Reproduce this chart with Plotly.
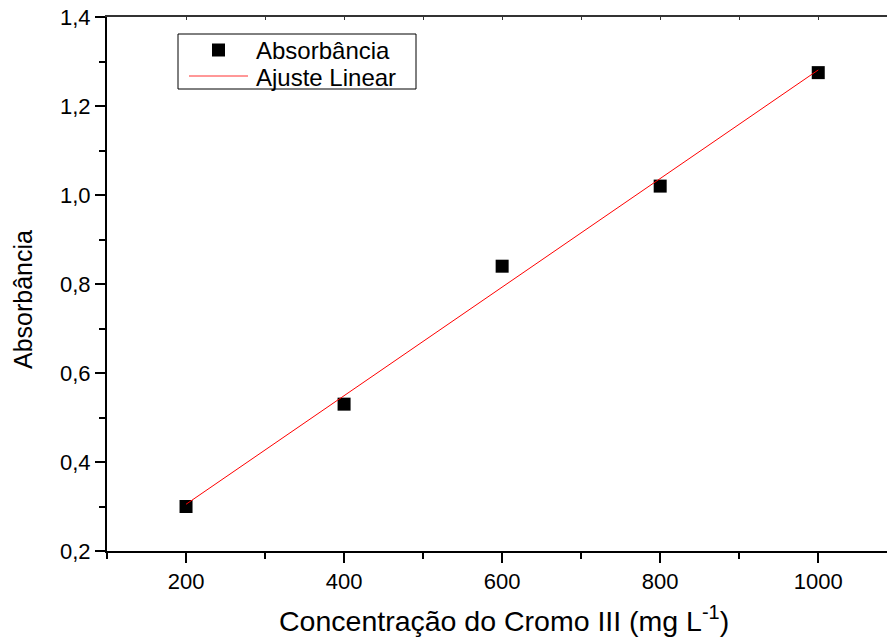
import numpy as np
import plotly.graph_objects as go

# Calibration data: chromium(III) concentration vs absorbance
concentracao = [200, 400, 600, 800, 1000]
absorbancia = [0.300, 0.530, 0.840, 1.020, 1.275]
legenda = ["Absorbância", "Ajuste Linear"]

# Least-squares linear fit
coef = np.polyfit(concentracao, absorbancia, 1)
x_fit = np.array([concentracao[0], concentracao[-1]])
y_fit = np.polyval(coef, x_fit)

FONT = "Liberation Sans, Arial, sans-serif"

# Plot-area geometry in pixels (used to place paper-referenced items)
W, H = 887, 639
L, R, T, B = 107, 0, 17, 88
PW, PH = W - L - R, H - T - B


def px(x):
    return (x - L) / PW


def py(y):
    return (H - B - y) / PH


fig = go.Figure()
fig.add_trace(go.Scatter(
    x=concentracao, y=absorbancia, mode="markers", name=legenda[0],
    marker=dict(symbol="square", size=13, color="black"),
    showlegend=False,
))
fig.add_trace(go.Scatter(
    x=x_fit, y=y_fit, mode="lines", name=legenda[1],
    line=dict(color="red", width=1), showlegend=False,
))
# invisible trace carrying the top axis
fig.add_trace(go.Scatter(x=[100], y=[0.2], xaxis="x2", mode="markers",
                         marker=dict(opacity=0), showlegend=False,
                         hoverinfo="skip"))

axis_common = dict(
    showgrid=False, zeroline=False, showline=True, linecolor="black",
    linewidth=2, ticks="outside", ticklen=10, tickwidth=2,
    tickcolor="black", tickfont=dict(family=FONT, size=22, color="black"),
)

fig.update_layout(
    xaxis=dict(
        range=[100, 1087], tickvals=[200, 400, 600, 800, 1000],
        minor=dict(dtick=100, tick0=100, ticks="outside", ticklen=6,
                   tickwidth=2, tickcolor="black"),
        **axis_common,
    ),
    xaxis2=dict(
        range=[100, 1087], overlaying="x", side="top", anchor="y",
        showgrid=False, zeroline=False, showline=True, linecolor="#333333",
        linewidth=2, ticks="inside", ticklen=3, tickwidth=1,
        tickcolor="#333333", dtick=100, tick0=100, showticklabels=False,
    ),
    yaxis=dict(
        range=[0.2, 1.4], dtick=0.2, tick0=0.2, tickformat=".1f",
        minor=dict(dtick=0.1, tick0=0.2, ticks="outside", ticklen=6,
                   tickwidth=2, tickcolor="black"),
        **axis_common,
    ),
)

shapes = [
    # legend frame
    dict(type="rect", xref="paper", yref="paper",
         x0=px(178), x1=px(416), y0=py(89), y1=py(34),
         line=dict(color="black", width=1), fillcolor="white", layer="above"),
    # legend symbols
    dict(type="rect", xref="paper", yref="paper",
         x0=px(212), x1=px(225), y0=py(56.5), y1=py(43.5),
         line=dict(width=0), fillcolor="black", layer="above"),
    dict(type="line", xref="paper", yref="paper",
         x0=px(189), x1=px(248), y0=py(76), y1=py(76),
         line=dict(color="#ff3030", width=1), layer="above"),
]

annotations = [
    dict(text=legenda[0], xref="paper", yref="paper", x=px(254), y=py(50),
         xanchor="left", yanchor="middle", showarrow=False,
         font=dict(family=FONT, size=24, color="black")),
    dict(text=legenda[1], xref="paper", yref="paper", x=px(254), y=py(77),
         xanchor="left", yanchor="middle", showarrow=False,
         font=dict(family=FONT, size=24, color="black")),
    dict(text="Concentração do Cromo III (mg L<sup>-1</sup>)",
         xref="paper", yref="paper", x=px(504), y=py(619),
         xanchor="center", yanchor="middle", showarrow=False,
         font=dict(family=FONT, size=28.5, color="black")),
    dict(text="Absorbância", textangle=-90,
         xref="paper", yref="paper", x=px(23), y=py(300),
         xanchor="center", yanchor="middle", showarrow=False,
         font=dict(family=FONT, size=25, color="black")),
]

fig.update_layout(
    width=W, height=H,
    margin=dict(l=L, r=R, t=T, b=B),
    paper_bgcolor="white", plot_bgcolor="white",
    separators=",.",
    font=dict(family=FONT, color="black"),
    showlegend=False,
    shapes=shapes,
    annotations=annotations,
)

fig.write_html("out.html")
